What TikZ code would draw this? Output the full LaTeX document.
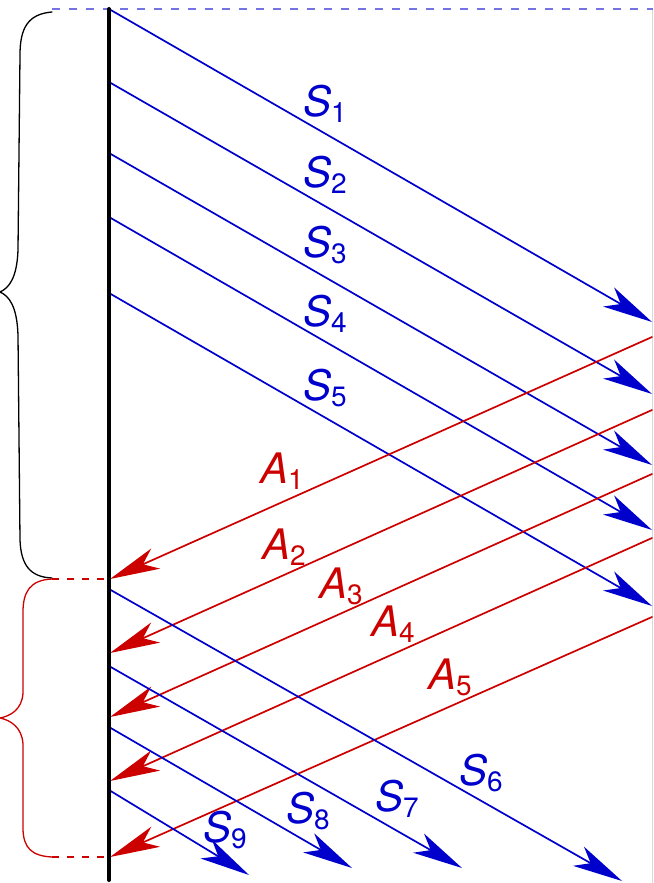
\documentclass[tikz,border=0pt]{standalone}
\usepackage{fontspec}
\setmainfont{TeX Gyre Heros}
\usepackage{tikz}
\usetikzlibrary{arrows.meta}
\usepackage{xcolor}
\definecolor{sigblue}{RGB}{0,0,205}
\definecolor{ackred}{RGB}{205,0,0}
\newcommand{\sublbl}[2]{\textit{#1}\raisebox{-3pt}{\fontsize{14}{14}\selectfont #2}}

\begin{document}
\begin{tikzpicture}[x=0.5pt, y=-0.5pt, line cap=round,
  sig/.style={sigblue, line width=0.85pt, -{Stealth[length=25pt, width=11pt, inset=7pt]}},
  ack/.style={ackred, line width=0.85pt, -{Stealth[length=25pt, width=11pt, inset=7pt]}},
  siglbl/.style={text=sigblue, inner sep=0pt, font=\fontsize{21}{25}\selectfont},
  acklbl/.style={text=ackred, inner sep=0pt, font=\fontsize{21}{25}\selectfont}]
\useasboundingbox (0,0) rectangle (653,883);
% Coordinates
\coordinate (W1) at (109,9);    % top of wall
\coordinate (W2) at (109,880);  % bottom of wall
\coordinate (s1a) at (109,9);   \coordinate (s1b) at (652,322);
\coordinate (s2a) at (109,82);  \coordinate (s2b) at (652,394);
\coordinate (s3a) at (109,153); \coordinate (s3b) at (652,465);
\coordinate (s4a) at (109,217); \coordinate (s4b) at (652,530);
\coordinate (s5a) at (109,293); \coordinate (s5b) at (652,606);
\coordinate (a1a) at (652,337); \coordinate (a1b) at (110,579);
\coordinate (a2a) at (652,410); \coordinate (a2b) at (110,653);
\coordinate (a3a) at (652,474); \coordinate (a3b) at (110,717);
\coordinate (a4a) at (652,538); \coordinate (a4b) at (110,781);
\coordinate (a5a) at (652,617); \coordinate (a5b) at (110,857);
\coordinate (s6a) at (109,589); \coordinate (s6b) at (622,881);
\coordinate (s7a) at (109,666); \coordinate (s7b) at (462,868);
\coordinate (s8a) at (109,727); \coordinate (s8b) at (352,868);
\coordinate (s9a) at (109,790); \coordinate (s9b) at (249,875);
% Right edge and top dashed line
\draw[black!15, line width=0.5pt] (652,9) -- (652,883);
\draw[sigblue!55, line width=0.65pt, dash pattern=on 4pt off 4.5pt, line cap=butt] (52,9) -- (653,9);
% Red dashed marks
\draw[ackred, line width=0.6pt, dash pattern=on 3.5pt off 4pt, line cap=butt] (52,579) -- (a1b);
\draw[ackred, line width=0.6pt, dash pattern=on 3.5pt off 4pt, line cap=butt] (52,857) -- (a5b);
% ---- Black brace ----
\draw[line width=0.65pt] (52,12) .. controls (28,14) and (20,28) .. (20,55) -- (18,250)
  .. controls (17,278) and (9,288) .. (0,292) .. controls (9,296) and (17,306) .. (18,335)
  -- (20,540) .. controls (21,565) and (30,577) .. (52,578);
% ---- Red brace ----
\draw[ackred, line width=0.65pt] (52,579) .. controls (30,580) and (23,592) .. (23,612) -- (23,693)
  .. controls (22,710) and (10,716) .. (0,718) .. controls (10,720) and (22,727) .. (23,744)
  -- (23,828) .. controls (23,848) and (32,856) .. (52,857);
% Signals S1--S5
\draw[sig] (s1a) -- (s1b);
\draw[sig] (s2a) -- (s2b);
\draw[sig] (s3a) -- (s3b);
\draw[sig] (s4a) -- (s4b);
\draw[sig] (s5a) -- (s5b);
% Acks A1--A5
\draw[ack] (a1a) -- (a1b);
\draw[ack] (a2a) -- (a2b);
\draw[ack] (a3a) -- (a3b);
\draw[ack] (a4a) -- (a4b);
\draw[ack] (a5a) -- (a5b);
% Signals S6--S9
\draw[sig] (s6a) -- (s6b);
\draw[sig] (s7a) -- (s7b);
\draw[sig] (s8a) -- (s8b);
\draw[sig] (s9a) -- (s9b);
% Wall
\draw[line width=2pt] (W1) -- (W2);
% Labels
\node[siglbl] (s1lbl) at (325,104) {\sublbl{S}{1}};
\node[siglbl] (s2lbl) at (325,175) {\sublbl{S}{2}};
\node[siglbl] (s3lbl) at (325,245) {\sublbl{S}{3}};
\node[siglbl] (s4lbl) at (325,314) {\sublbl{S}{4}};
\node[siglbl] (s5lbl) at (325,388) {\sublbl{S}{5}};
\node[acklbl] (a1lbl) at (282,471) {\sublbl{A}{1}};
\node[acklbl] (a2lbl) at (284,547) {\sublbl{A}{2}};
\node[acklbl] (a3lbl) at (341,586) {\sublbl{A}{3}};
\node[acklbl] (a4lbl) at (393,624) {\sublbl{A}{4}};
\node[acklbl] (a5lbl) at (450,677) {\sublbl{A}{5}};
\node[siglbl] (s6lbl) at (481,773) {\sublbl{S}{6}};
\node[siglbl] (s7lbl) at (397,799) {\sublbl{S}{7}};
\node[siglbl] (s8lbl) at (308,811) {\sublbl{S}{8}};
\node[siglbl] (s9lbl) at (225,830) {\sublbl{S}{9}};
\end{tikzpicture}
\end{document}
